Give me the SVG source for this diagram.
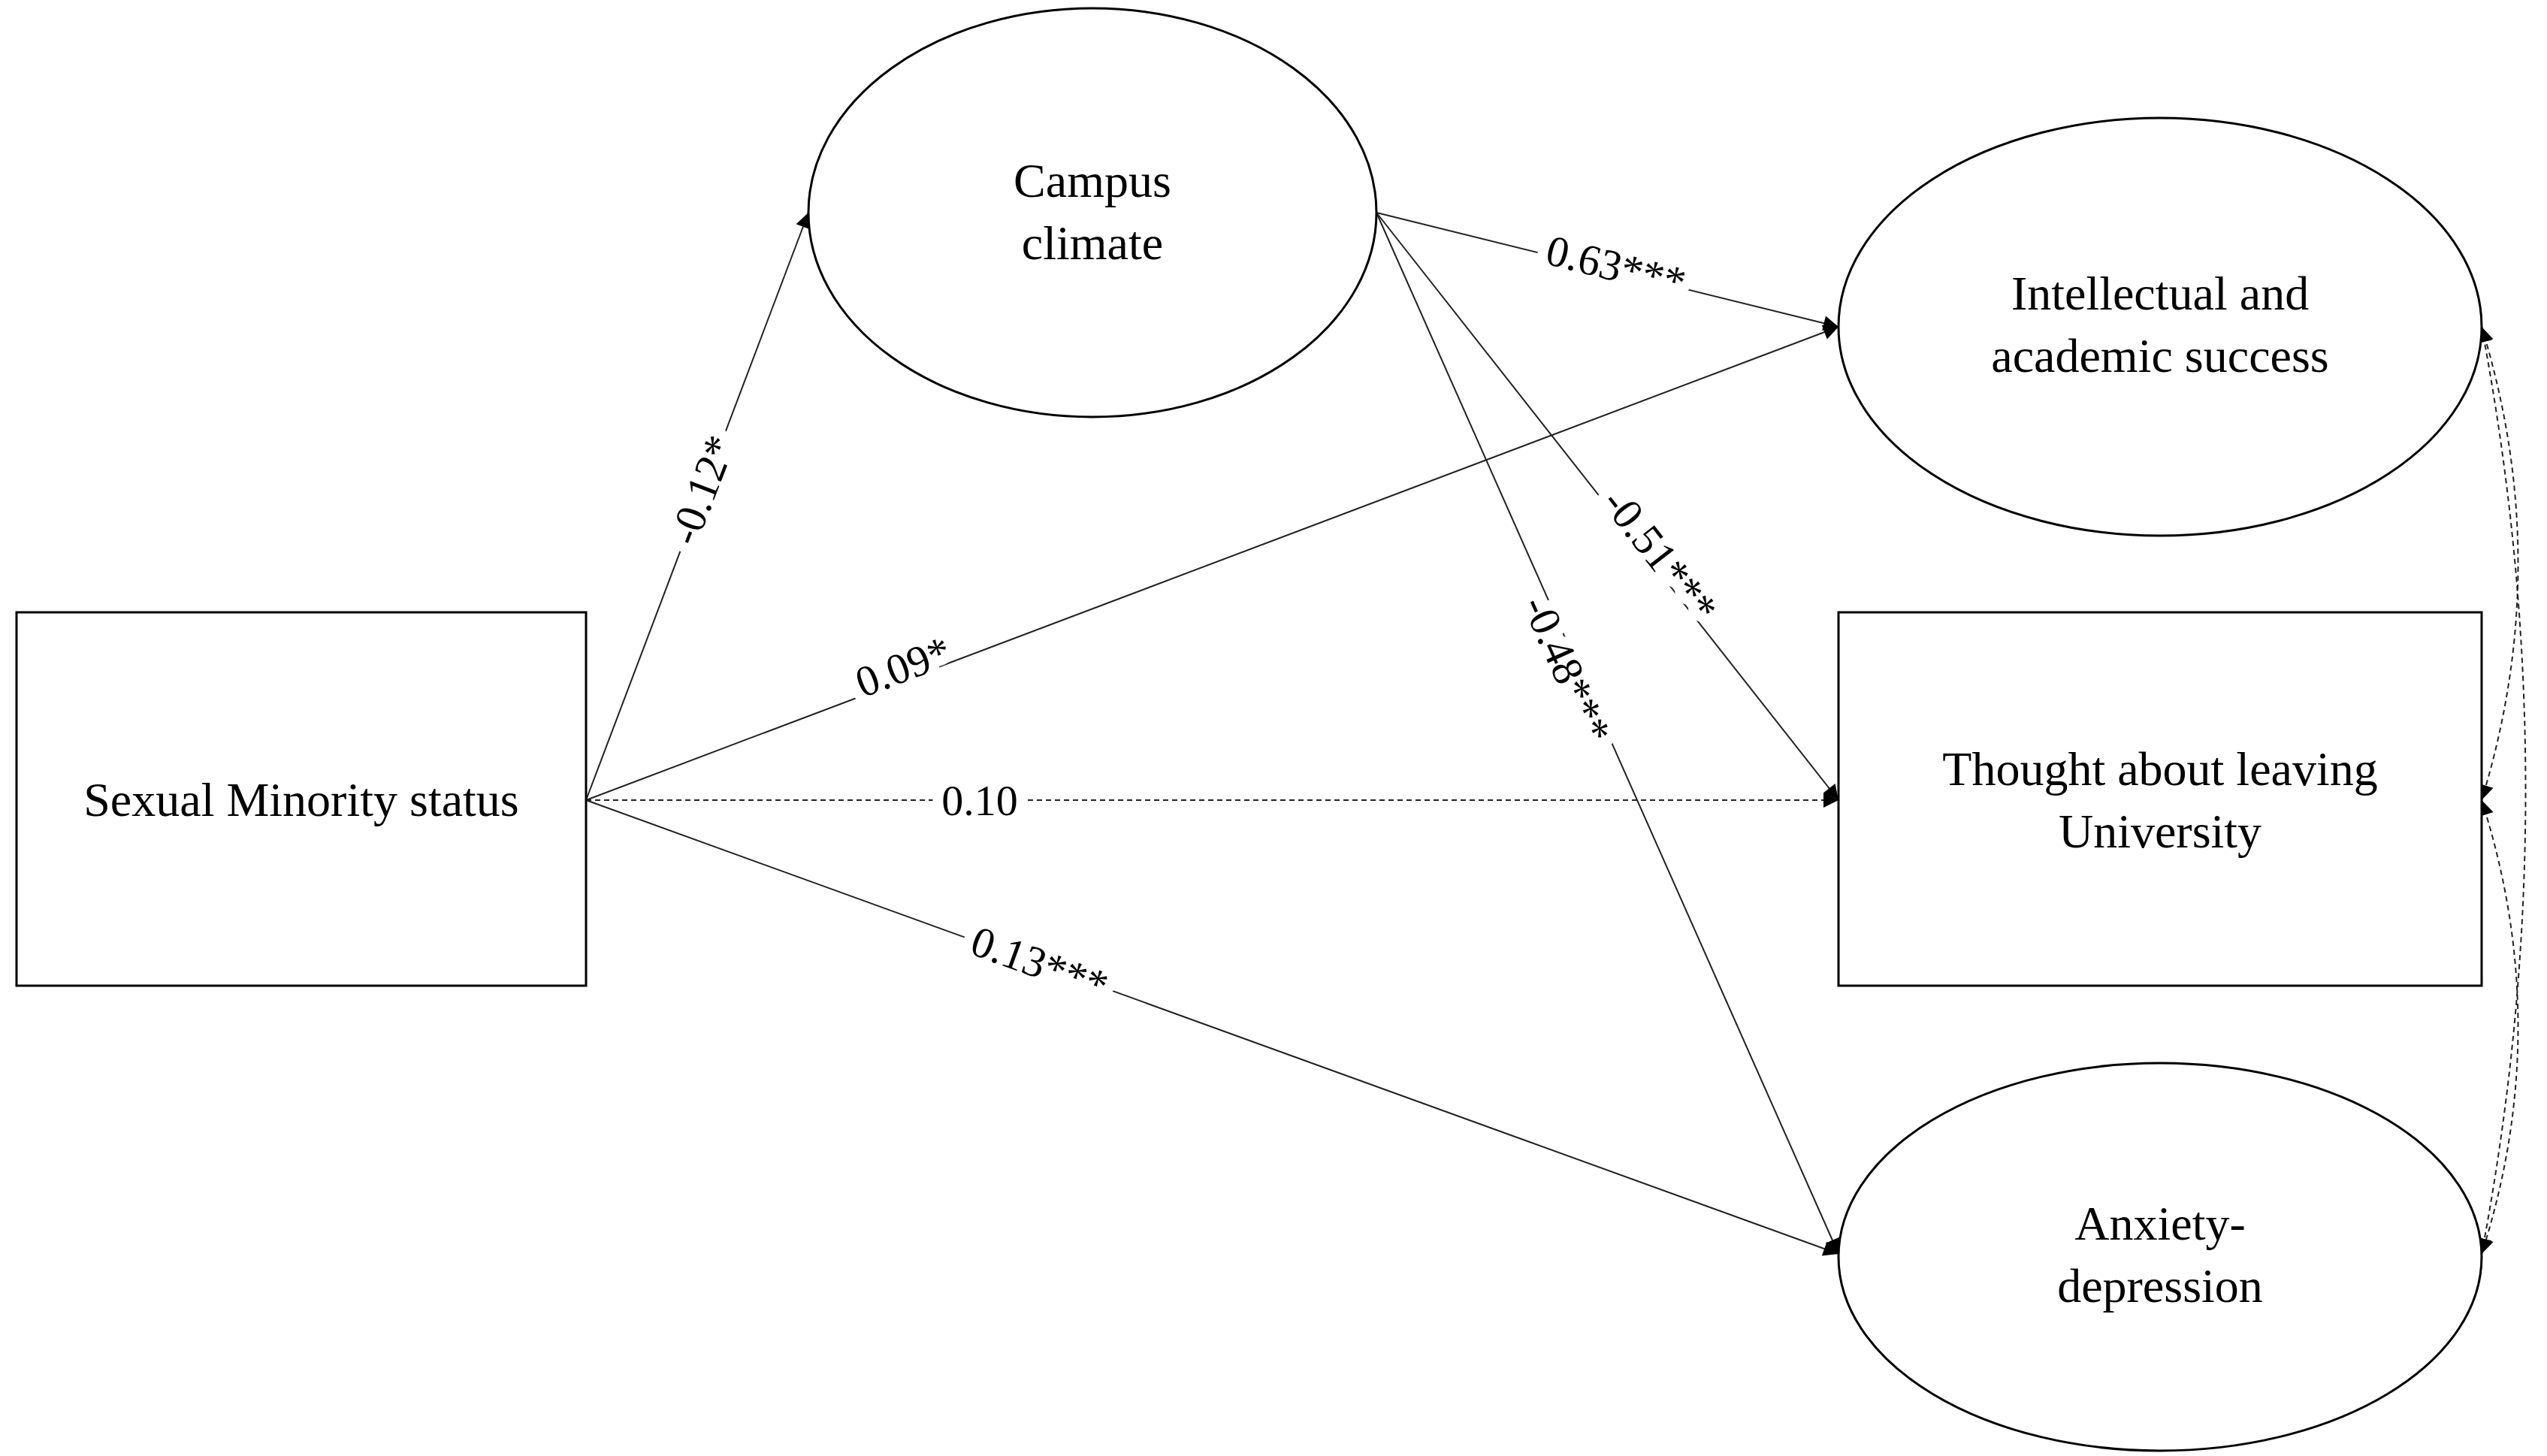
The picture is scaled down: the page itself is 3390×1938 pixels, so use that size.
<svg xmlns="http://www.w3.org/2000/svg" width="3390" height="1938" viewBox="0 0 3390 1938">
<style>
.n{fill:#fff;stroke:#000;stroke-width:3}
.t{font-family:"Liberation Serif",serif;font-size:64px;text-anchor:middle;fill:#000}
.l{font-family:"Liberation Serif",serif;font-size:58px;text-anchor:middle;fill:#000;stroke:#fff;stroke-width:28;paint-order:stroke;stroke-linejoin:round}
.c{fill:none;stroke:#222;stroke-width:2}
.d{stroke-dasharray:7 5}
</style>
<defs>
<marker id="a" viewBox="0 0 10 10" refX="10" refY="5" markerWidth="11" markerHeight="11" markerUnits="userSpaceOnUse" orient="auto-start-reverse"><path d="M0,0L10,5L0,10z" fill="#000" transform="scale(1)"/></marker>
<marker id="b" viewBox="0 0 10 10" refX="10" refY="5" markerWidth="24" markerHeight="20" markerUnits="userSpaceOnUse" orient="auto-start-reverse"><path d="M0,0L10,5L0,10z" fill="#000"/></marker>
</defs>
<rect width="3390" height="1938" fill="#fff"/>
<g id="connectors">
<path class="c" d="M780,1065L1076,283" marker-end="url(#b)"/>
<path class="c" d="M780,1065L2447,435" marker-end="url(#b)"/>
<path class="c d" d="M780,1065L2447,1065" marker-end="url(#b)"/>
<path class="c" d="M780,1065L2447,1669" marker-end="url(#b)"/>
<path class="c" d="M1832,283L2447,435" marker-end="url(#b)"/>
<path class="c" d="M1832,283L2447,1065" marker-end="url(#b)"/>
<path class="c" d="M1832,283L2447,1669" marker-end="url(#b)"/>
<path class="c d" d="M3303,435Q3400,750 3303,1065" marker-start="url(#b)" marker-end="url(#b)"/>
<path class="c d" d="M3303,1065Q3400,1367 3303,1669" marker-start="url(#b)" marker-end="url(#b)"/>
<path class="c d" d="M3303,435Q3420,1052 3303,1669" marker-start="url(#b)" marker-end="url(#b)"/>
<text class="l" transform="translate(934,652) rotate(-69)" dy="20">-0.12*</text>
<text class="l" transform="translate(2151,354) rotate(14)" dy="20">0.63***</text>
<text class="l" transform="translate(2210,739) rotate(52)" dy="20">-0.51***</text>
<text class="l" transform="translate(2086,891) rotate(66)" dy="20">-0.48***</text>
<text class="l" transform="translate(1202,887) rotate(-21)" dy="20">0.09*</text>
<text class="l" transform="translate(1304,1065)" dy="20">0.10</text>
<text class="l" transform="translate(1384,1282) rotate(20)" dy="20">0.13***</text>
</g>
<g id="sexual"><rect class="n" x="22" y="815" width="758" height="497"/><text class="t" x="401" y="1086">Sexual Minority status</text></g>
<g id="campus"><ellipse class="n" cx="1454" cy="283" rx="378" ry="272"/><text class="t" x="1454" y="262">Campus</text><text class="t" x="1454" y="345">climate</text></g>
<g id="intellectual"><ellipse class="n" cx="2875" cy="435" rx="428" ry="278"/><text class="t" x="2875" y="412">Intellectual and</text><text class="t" x="2875" y="495">academic success</text></g>
<g id="thought"><rect class="n" x="2447" y="815" width="856" height="497"/><text class="t" x="2875" y="1045">Thought about leaving</text><text class="t" x="2875" y="1128">University</text></g>
<g id="anxiety"><ellipse class="n" cx="2875" cy="1673" rx="428" ry="258"/><text class="t" x="2875" y="1650">Anxiety-</text><text class="t" x="2875" y="1733">depression</text></g>
</svg>
